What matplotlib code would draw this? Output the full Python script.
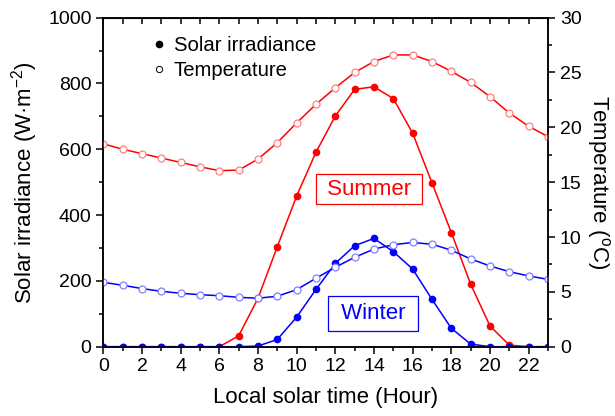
import matplotlib
matplotlib.use("Agg")
import matplotlib.pyplot as plt
from matplotlib.lines import Line2D
from matplotlib.ticker import MultipleLocator

plt.rcParams["font.family"] = ["Liberation Sans", "DejaVu Sans"]
plt.rcParams["mathtext.default"] = "regular"

hours = list(range(24))

# Solar irradiance (W/m2)
summer_irr = [0, 0, 0, 0, 0, 0, 0, 33, 147, 304, 458, 591, 701, 782,
              790, 754, 649, 498, 347, 190, 63, 5, 0, 0]
winter_irr = [0, 0, 0, 0, 0, 0, 0, 0, 2, 22, 90, 174, 253, 307,
              329, 289, 236, 144, 56, 8, 0, 0, 0, 0]

# Temperature (deg C)
summer_temp = [18.5, 18.0, 17.6, 17.2, 16.8, 16.4, 16.05, 16.1, 17.1, 18.6,
               20.4, 22.1, 23.6, 25.0, 26.0, 26.6, 26.6, 26.0, 25.1, 24.1,
               22.8, 21.3, 20.1, 19.15]
winter_temp = [5.87, 5.6, 5.3, 5.05, 4.87, 4.74, 4.65, 4.5, 4.42, 4.6,
               5.2, 6.24, 7.24, 8.15, 8.9, 9.3, 9.5, 9.34, 8.8, 8.0,
               7.36, 6.84, 6.45, 6.14]

red = "#ff0000"
blue = "#0000ff"

fig = plt.figure(figsize=(6.15, 4.16), dpi=100)
ax1 = fig.add_axes([0.168, 0.1666, 0.723, 0.791])
ax2 = ax1.twinx()

# irradiance - filled markers
ax1.plot(hours, summer_irr, "-o", color=red, lw=1.1, ms=4.5, zorder=3)
ax1.plot(hours, winter_irr, "-o", color=blue, lw=1.1, ms=4.5, zorder=3)

# temperature - open markers (drawn on top)
ax2.plot(hours, summer_temp, "-o", color=red, lw=1.1, ms=5, mfc="white",
         mec="#ff8080", mew=0.9)
ax2.plot(hours, winter_temp, "-o", color=blue, lw=1.1, ms=5, mfc="white",
         mec="#8080ff", mew=0.9)

ax1.set_xlim(0, 23)
ax1.set_ylim(0, 1000)
ax2.set_ylim(0, 30)

ax1.xaxis.set_major_locator(MultipleLocator(2))
ax1.xaxis.set_minor_locator(MultipleLocator(1))
ax1.yaxis.set_major_locator(MultipleLocator(200))
ax1.yaxis.set_minor_locator(MultipleLocator(100))
ax2.yaxis.set_major_locator(MultipleLocator(5))
ax2.yaxis.set_minor_locator(MultipleLocator(2.5))

for ax in (ax1, ax2):
    for sp in ax.spines.values():
        sp.set_linewidth(1.1)
ax1.tick_params(axis="both", which="major", direction="out", length=5,
                width=1.1, labelsize=14)
ax1.tick_params(axis="both", which="minor", direction="out", length=3,
                width=1.1)
ax2.tick_params(axis="y", which="major", direction="out", length=5,
                width=1.1, labelsize=14)
ax2.tick_params(axis="y", which="minor", direction="out", length=3, width=1.1)

# top ticks point inward
ax_top = ax1.secondary_xaxis("top")
ax_top.xaxis.set_major_locator(MultipleLocator(1))
ax_top.tick_params(direction="in", length=4, width=1.1, labeltop=False)
ax1.tick_params(axis="x", which="both", top=False)

ax1.set_xlabel("Local solar time (Hour)", fontsize=16, labelpad=8)
ax1.set_ylabel("Solar irradiance (W·m$^{-2}$)", fontsize=16, labelpad=6)
ax2.set_ylabel("Temperature ($^{o}$C)", fontsize=16, rotation=270, labelpad=22)

ax1.text(13.74, 479, " Summer ", color=red, fontsize=16, ha="center",
         va="center", bbox=dict(boxstyle="square,pad=0.2", fc="white",
                                ec=red, lw=0.9))
ax1.text(13.94, 101, " Winter ", color=blue, fontsize=16, ha="center",
         va="center", bbox=dict(boxstyle="square,pad=0.3", fc="white",
                                ec=blue, lw=0.9))

handles = [
    Line2D([], [], ls="none", marker="o", color="black", ms=4.5),
    Line2D([], [], ls="none", marker="o", color="black", mfc="white",
           ms=4.5, mew=0.7),
]
ax1.legend(handles, ["Solar irradiance", "Temperature"], loc="upper left",
           bbox_to_anchor=(0.07, 1.0), frameon=False, fontsize=14.6,
           handlelength=0.6, handletextpad=0.45, labelspacing=0.3)

fig.savefig("out.png", dpi=100)
